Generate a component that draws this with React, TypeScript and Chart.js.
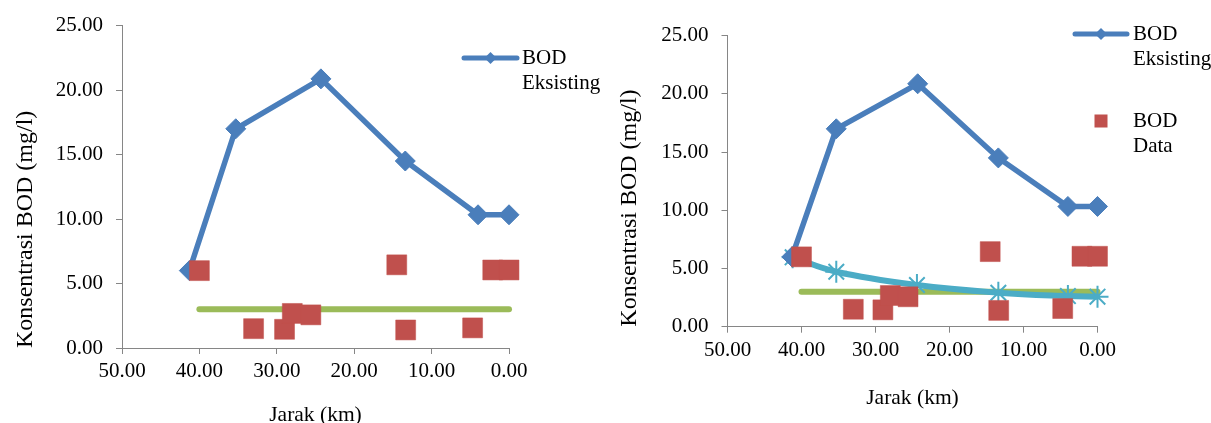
import React, { useEffect, useRef } from 'react';
import { Chart, registerables } from 'chart.js';

Chart.register(...registerables);

const FONT = '"Liberation Serif", "Times New Roman", serif';

// BOD Eksisting (blue line with diamonds)
const jarakEksisting = [41.3, 35.3, 24.3, 13.4, 4.0, 0.0];
const bodEksisting = [6.0, 17.0, 20.87, 14.5, 10.33, 10.33];
// BOD Data (red squares)
const jarakData = [40.0, 33.0, 29.0, 28.0, 25.6, 14.5, 13.35, 4.7, 2.1, 0.0];
const bodData = [6.0, 1.5, 1.45, 2.68, 2.57, 6.45, 1.4, 1.56, 6.05, 6.05];
// Baku mutu (green line)
const jarakBaku = [40.0, 0.0];
const bodBaku = [3.0, 3.0];
// BOD Model (teal smooth line with asterisks) - right chart only
const jarakModel = [41.2, 35.3, 24.4, 13.4, 4.0, 0.0];
const bodModel = [5.96, 4.72, 3.58, 2.92, 2.63, 2.58];

const yTicks = [0, 5, 10, 15, 20, 25];
const xTicks = [50, 40, 30, 20, 10, 0];

const BLUE = '#4A7EBB';
const RED = '#C0504D';
const GREEN = '#9BBB59';
const TEAL = '#4BACC6';
const AXIS = '#868686';

const zip = (xs: number[], ys: number[]) => xs.map((x, i) => ({ x, y: ys[i] }));

type LegendItem = {
  kind: 'line' | 'square';
  sx1: number; sx2: number; sy: number;
  tx: number; lines: string[];
};

type Spec = {
  width: number;
  height: number;
  area: { left: number; right: number; top: number; bottom: number };
  xTitleOffset: number;
  yTitleCenter: number;
  withModel: boolean;
  legend: LegendItem[];
};

function makeConfig(spec: Spec): any {
  const { width, height, area } = spec;
  const datasets: any[] = [
    {
      label: 'BOD Data',
      data: zip(jarakData, bodData),
      showLine: false,
      pointStyle: 'rect',
      pointRadius: 14.1,
      pointBackgroundColor: RED,
      pointBorderColor: RED,
      pointBorderWidth: 0.5,
      clip: false,
    },
    {
      label: 'BOD Eksisting',
      data: zip(jarakEksisting, bodEksisting),
      showLine: true,
      borderColor: BLUE,
      borderWidth: 5.5,
      tension: 0,
      pointStyle: 'rectRot',
      pointRadius: 10,
      pointBackgroundColor: BLUE,
      pointBorderColor: BLUE,
      pointBorderWidth: 1,
      clip: false,
    },
  ];
  if (spec.withModel) {
    datasets.push({
      label: 'BOD Model',
      data: zip(jarakModel, bodModel),
      showLine: true,
      borderColor: TEAL,
      borderWidth: 6,
      tension: 0.4,
      pointStyle: 'star',
      pointRadius: 11,
      pointBackgroundColor: TEAL,
      pointBorderColor: TEAL,
      pointBorderWidth: 2,
      clip: false,
    });
  }
  datasets.push({
    label: 'Baku Mutu',
    data: zip(jarakBaku, bodBaku),
    showLine: true,
    borderColor: GREEN,
    borderWidth: 6,
    borderCapStyle: 'round',
    pointRadius: 0,
    clip: false,
  });

  const legendPlugin = {
    id: 'customLegend',
    afterDraw(chart: any) {
      const ctx = chart.ctx as CanvasRenderingContext2D;
      ctx.save();
      for (const it of spec.legend) {
        if (it.kind === 'line') {
          ctx.strokeStyle = BLUE;
          ctx.lineWidth = 5;
          ctx.lineCap = 'round';
          ctx.beginPath();
          ctx.moveTo(it.sx1, it.sy);
          ctx.lineTo(it.sx2, it.sy);
          ctx.stroke();
          const cx = (it.sx1 + it.sx2) / 2;
          const r = 6;
          ctx.fillStyle = BLUE;
          ctx.beginPath();
          ctx.moveTo(cx - r, it.sy);
          ctx.lineTo(cx, it.sy - r);
          ctx.lineTo(cx + r, it.sy);
          ctx.lineTo(cx, it.sy + r);
          ctx.closePath();
          ctx.fill();
        } else {
          const cx = (it.sx1 + it.sx2) / 2;
          const h = 6.5;
          ctx.fillStyle = RED;
          ctx.fillRect(cx - h, it.sy - h, 2 * h, 2 * h);
        }
        ctx.fillStyle = '#000';
        ctx.font = `21px ${FONT}`;
        ctx.textBaseline = 'middle';
        ctx.textAlign = 'left';
        it.lines.forEach((t, i) => ctx.fillText(t, it.tx, it.sy + i * 25));
      }
      ctx.restore();
    },
  };

  const xTitleSize = 21.5;
  const yTitleSize = 24;

  return {
    type: 'scatter',
    data: { datasets },
    plugins: [legendPlugin],
    options: {
      animation: false,
      responsive: false,
      devicePixelRatio: 1,
      events: [],
      layout: {
        padding: { left: 0, top: area.top, right: width - area.right, bottom: 0 },
      },
      plugins: { legend: { display: false }, tooltip: { enabled: false } },
      scales: {
        x: {
          type: 'linear',
          min: 0,
          max: 50,
          reverse: true,
          afterBuildTicks: (s: any) => {
            s.ticks = xTicks.map((v) => ({ value: v }));
          },
          afterFit: (s: any) => {
            s.height = height - area.bottom;
          },
          ticks: {
            callback: (v: any) => Number(v).toFixed(2),
            font: { family: FONT, size: 21 },
            color: '#000',
            padding: 5,
            maxRotation: 0,
            autoSkip: false,
          },
          grid: { drawOnChartArea: false, drawTicks: true, tickLength: 6, color: AXIS, tickColor: AXIS },
          border: { display: true, color: AXIS, width: 1 },
          title: {
            display: true,
            text: 'Jarak (km)',
            color: '#000',
            font: { family: FONT, size: xTitleSize, lineHeight: 1.2 },
            padding: { top: 0, bottom: spec.xTitleOffset - (xTitleSize * 1.2) / 2 },
          },
        },
        y: {
          type: 'linear',
          min: 0,
          max: 25,
          afterBuildTicks: (s: any) => {
            s.ticks = yTicks.map((v) => ({ value: v }));
          },
          afterFit: (s: any) => {
            s.width = area.left;
          },
          ticks: {
            callback: (v: any) => Number(v).toFixed(2),
            font: { family: FONT, size: 21 },
            color: '#000',
            padding: 13,
          },
          grid: { drawOnChartArea: false, drawTicks: true, tickLength: 6, color: AXIS, tickColor: AXIS },
          border: { display: true, color: AXIS, width: 1 },
          title: {
            display: true,
            text: 'Konsentrasi BOD (mg/l)',
            align: 'start',
            color: '#000',
            font: { family: FONT, size: yTitleSize, lineHeight: 1.2 },
            padding: { top: spec.yTitleCenter - (yTitleSize * 1.2) / 2, bottom: 0 },
          },
        },
      },
    },
  };
}

function ChartBox({ spec, left }: { spec: Spec; left: number }) {
  const ref = useRef<HTMLCanvasElement | null>(null);
  useEffect(() => {
    if (!ref.current) return;
    const chart = new Chart(ref.current, makeConfig(spec));
    return () => chart.destroy();
  }, []);
  return (
    <canvas
      ref={ref}
      width={spec.width}
      height={spec.height}
      style={{ position: 'absolute', left, top: 0, width: spec.width, height: spec.height }}
    />
  );
}

const leftSpec: Spec = {
  width: 605,
  height: 440,
  area: { left: 122, right: 509, top: 23, bottom: 348 },
  xTitleOffset: 25,
  yTitleCenter: 25.5,
  withModel: false,
  legend: [{ kind: 'line', sx1: 464, sx2: 517, sy: 58, tx: 522, lines: ['BOD', 'Eksisting'] }],
};

const rightSpec: Spec = {
  width: 606,
  height: 440,
  area: { left: 122.5, right: 492.5, top: 35.7, bottom: 326.7 },
  xTitleOffset: 41.7,
  yTitleCenter: 25,
  withModel: true,
  legend: [
    { kind: 'line', sx1: 470, sx2: 522, sy: 34, tx: 528, lines: ['BOD', 'Eksisting'] },
    { kind: 'square', sx1: 490, sx2: 502, sy: 121, tx: 528, lines: ['BOD', 'Data'] },
  ],
};

export default function App() {
  return (
    <div
      style={{
        position: 'fixed',
        left: 0,
        top: 0,
        width: 1211,
        height: 423,
        overflow: 'hidden',
        background: '#fff',
      }}
    >
      <ChartBox spec={leftSpec} left={0} />
      <ChartBox spec={rightSpec} left={605} />
    </div>
  );
}
